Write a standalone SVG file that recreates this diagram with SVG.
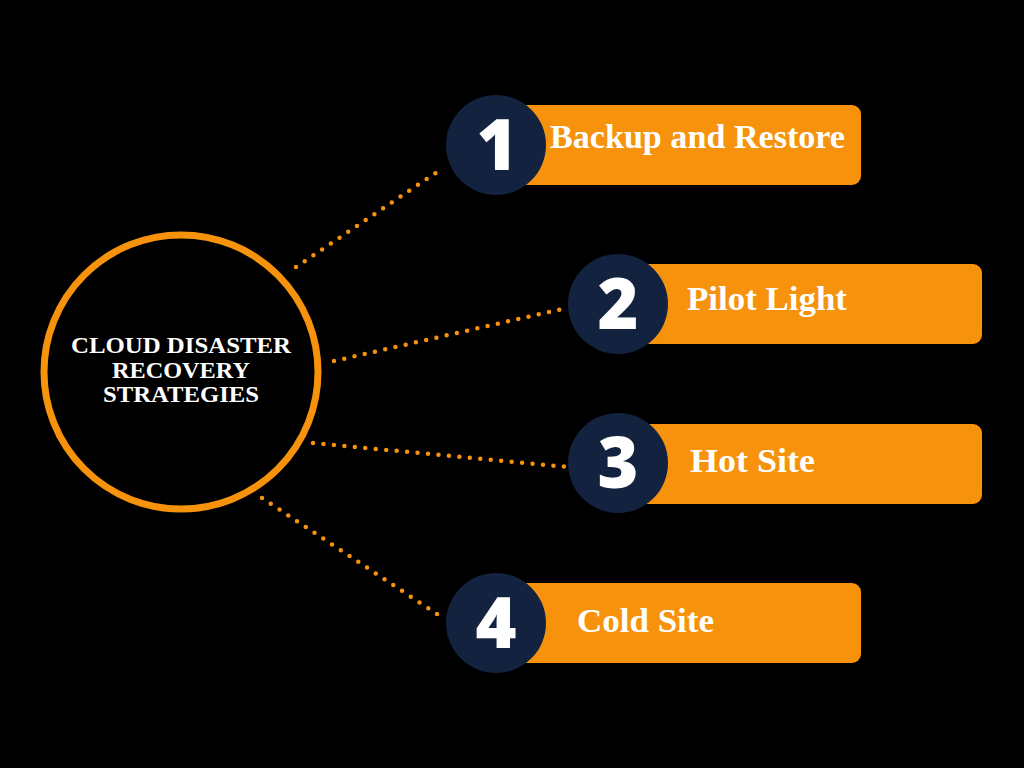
<svg xmlns="http://www.w3.org/2000/svg" width="1024" height="768" viewBox="0 0 1024 768">
<style>
.bar{fill:#F7920D}
.num{fill:#12223F}
.numt{font-family:"Open Sans","DejaVu Sans",sans-serif;font-weight:800;font-size:70px;fill:#fff;text-anchor:middle}
.lbl{font-family:"Liberation Serif","Times New Roman",serif;font-weight:bold;font-size:34px;fill:#fff}
.ctr{font-family:"Liberation Serif","Times New Roman",serif;font-weight:bold;font-size:23px;fill:#fff;text-anchor:middle}
.dot{stroke:#F7920D;stroke-width:4.5;stroke-linecap:round;stroke-dasharray:0 10.5;fill:none}
</style>
<rect width="1024" height="768" fill="#000"/>
<g id="connectors">
<line class="dot" x1="296" y1="267" x2="440" y2="170"/>
<line class="dot" x1="334" y1="361" x2="562" y2="309"/>
<line class="dot" x1="313" y1="443" x2="568" y2="467"/>
<line class="dot" x1="262" y1="498" x2="440" y2="616"/>
</g>
<g id="center">
<circle cx="181" cy="372" r="137" fill="#000" stroke="#F7920D" stroke-width="7"/>
<text class="ctr" x="181" y="353" textLength="220" lengthAdjust="spacingAndGlyphs">CLOUD DISASTER</text>
<text class="ctr" x="181" y="378" textLength="138" lengthAdjust="spacingAndGlyphs">RECOVERY</text>
<text class="ctr" x="181" y="402" textLength="156" lengthAdjust="spacingAndGlyphs">STRATEGIES</text>
</g>
<g id="node1">
<rect class="bar" x="500" y="105" width="361" height="80" rx="9"/>
<circle class="num" cx="496" cy="145" r="50"/>
<text class="numt" x="497" y="170">1</text>
<text class="lbl" x="550" y="148" textLength="295" lengthAdjust="spacingAndGlyphs">Backup and Restore</text>
</g>
<g id="node2">
<rect class="bar" x="620" y="264" width="362" height="80" rx="9"/>
<circle class="num" cx="618" cy="304" r="50"/>
<text class="numt" x="618" y="329">2</text>
<text class="lbl" x="687" y="310" textLength="160" lengthAdjust="spacingAndGlyphs">Pilot Light</text>
</g>
<g id="node3">
<rect class="bar" x="620" y="424" width="362" height="80" rx="9"/>
<circle class="num" cx="618" cy="463" r="50"/>
<text class="numt" x="618" y="488">3</text>
<text class="lbl" x="690" y="472" textLength="125" lengthAdjust="spacingAndGlyphs">Hot Site</text>
</g>
<g id="node4">
<rect class="bar" x="500" y="583" width="361" height="80" rx="9"/>
<circle class="num" cx="496" cy="623" r="50"/>
<text class="numt" x="496" y="648">4</text>
<text class="lbl" x="577" y="632" textLength="137" lengthAdjust="spacingAndGlyphs">Cold Site</text>
</g>
</svg>
